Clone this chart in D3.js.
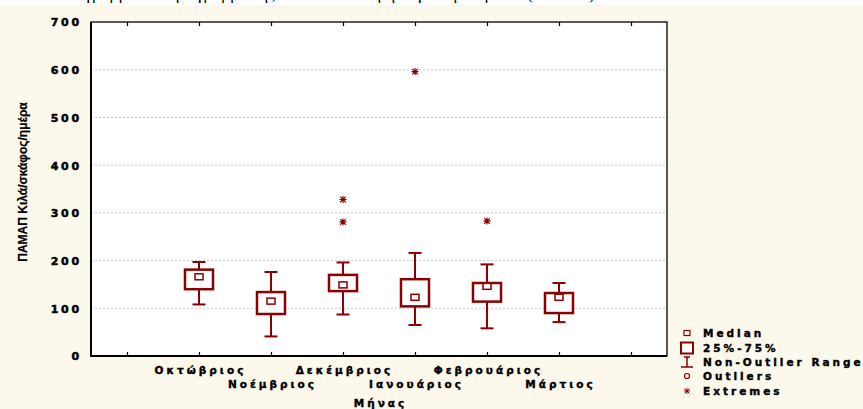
<!DOCTYPE html>
<html lang="el">
<head>
<meta charset="utf-8">
<title>box plot</title>
<script src="https://cdn.jsdelivr.net/npm/d3@7/dist/d3.min.js"></script>
<style>
  body { margin: 0; background: #fff; }
  svg { display: block; }
  .lbl { font-family: "DejaVu Sans", Arial, sans-serif; font-weight: bold; fill: #000; }
</style>
</head>
<body>
<script>
// data
var months = ['Οκτώβριος', 'Νοέμβριος', 'Δεκέμβριος', 'Ιανουάριος', 'Φεβρουάριος', 'Μάρτιος'];
var medians = [166, 115, 149, 123, 146, 123];
var q1 = [140, 88, 136, 104, 114, 90];
var q3 = [181, 134, 170, 161, 153, 132];
var whiskLow = [108, 41, 87, 65, 58, 71];
var whiskHigh = [197, 176, 196, 216, 192, 153];
var extremes = [[], [], [328, 281], [596], [283], []];
var yTicks = [0, 100, 200, 300, 400, 500, 600, 700];
var legendItems = ['Median', '25%-75%', 'Non-Outlier Range', 'Outliers', 'Extremes'];

var W = 863, H = 409;
var pL = 91, pR = 667, pT = 22, pB = 356;
var red = '#8b0000';

var svg = d3.select('body').append('svg')
    .attr('width', W).attr('height', H);

// white strip with the cut-off caption of the page above, then cream panel
svg.append('text')
    .attr('x', 60).attr('y', -1)
    .style('font-family', '"Liberation Serif", serif')
    .style('font-size', '17px')
    .attr('fill', '#000')
    .text('Διάγραμμα 4: Θηκόγραμμα της ΠΑΜΑΠ ανά μήνα για την περίοδο (2006-07)');
svg.append('rect')
    .attr('x', 0).attr('y', 5).attr('width', W).attr('height', H - 5)
    .attr('fill', '#fdf8ec');

var x = d3.scaleLinear().domain([-0.5, 7.5]).range([pL, pR]);
var y = d3.scaleLinear().domain([0, 700]).range([pB, pT]);

svg.append('rect')
    .attr('x', pL).attr('y', pT)
    .attr('width', pR - pL).attr('height', pB - pT)
    .attr('fill', '#fff');

// grid
svg.append('g').selectAll('line')
    .data(yTicks.filter(function (d) { return d > 0 && d < 700; }))
    .enter().append('line')
    .attr('x1', pL).attr('x2', pR)
    .attr('y1', function (d) { return y(d); })
    .attr('y2', function (d) { return y(d); })
    .attr('stroke', '#c8c8c8')
    .attr('stroke-dasharray', '2,2');

// y axis
var yAxis = d3.axisLeft(y).tickValues(yTicks).tickSize(0).tickPadding(9);
var gy = svg.append('g')
    .attr('transform', 'translate(' + pL + ',0)')
    .call(yAxis);
gy.select('.domain').remove();
gy.selectAll('text')
    .attr('class', 'lbl')
    .attr('fill', '#000')
    .style('font-size', '11px')
    .style('letter-spacing', '2.8px')
    .style('stroke', '#000').style('stroke-width', 0.5)
    .attr('dy', '0.35em');

// x axes, ticks pointing inward
var xPos = d3.range(0, 8);
var gxb = svg.append('g')
    .attr('transform', 'translate(0,' + pB + ')')
    .call(d3.axisBottom(x).tickValues(xPos).tickSize(-4).tickFormat(''));
var gxt = svg.append('g')
    .attr('transform', 'translate(0,' + pT + ')')
    .call(d3.axisTop(x).tickValues(xPos).tickSize(-4).tickFormat(''));
[gxb, gxt].forEach(function (g) {
    g.select('.domain').remove();
    g.selectAll('line').attr('stroke', '#000').attr('stroke-width', 1.2);
});

// frame
svg.append('rect')
    .attr('x', pL).attr('y', pT)
    .attr('width', pR - pL).attr('height', pB - pT)
    .attr('fill', 'none').attr('stroke', '#000').attr('stroke-width', 1.3);
svg.append('line')
    .attr('x1', pL).attr('x2', pL).attr('y1', pT).attr('y2', pB + 1)
    .attr('stroke', '#000').attr('stroke-width', 2);
svg.append('line')
    .attr('x1', pL).attr('x2', pR).attr('y1', pB).attr('y2', pB)
    .attr('stroke', '#000').attr('stroke-width', 2);

// category labels, staggered over two rows
svg.append('g').selectAll('text')
    .data(months)
    .enter().append('text')
    .attr('class', 'lbl')
    .attr('x', function (d, i) { return x(i + 1) + 1.5; })
    .attr('y', function (d, i) { return i % 2 === 0 ? 374 : 388; })
    .attr('text-anchor', 'middle')
    .style('font-size', '10.5px')
    .style('letter-spacing', '3px')
    .style('stroke', '#000').style('stroke-width', 0.4)
    .text(function (d) { return d; });

svg.append('text')
    .attr('class', 'lbl')
    .attr('x', (pL + pR) / 2 + 1.5).attr('y', 407)
    .attr('text-anchor', 'middle')
    .style('font-size', '10.5px')
    .style('letter-spacing', '3px')
    .style('stroke', '#000').style('stroke-width', 0.4)
    .text('Μήνας');

svg.append('text')
    .attr('transform', 'translate(27,' + 182 + ') rotate(-90)')
    .attr('text-anchor', 'middle')
    .style('font-family', '"Liberation Sans Narrow", "Arial Narrow", sans-serif')
    .style('font-weight', 'bold')
    .style('font-size', '12px')
    .style('stroke', '#000').style('stroke-width', 0.2)
    .attr('fill', '#000')
    .text('ΠΑΜΑΠ Κιλά/σκάφος/ημέρα');

// boxes
var boxW = 28, capW = 13;
var boxes = svg.append('g').selectAll('g')
    .data(months)
    .enter().append('g');

boxes.append('line')
    .attr('x1', function (d, i) { return x(i + 1); })
    .attr('x2', function (d, i) { return x(i + 1); })
    .attr('y1', function (d, i) { return y(whiskHigh[i]); })
    .attr('y2', function (d, i) { return y(whiskLow[i]); })
    .attr('stroke', red).attr('stroke-width', 2);
[whiskHigh, whiskLow].forEach(function (arr) {
    boxes.append('line')
        .attr('x1', function (d, i) { return x(i + 1) - capW / 2; })
        .attr('x2', function (d, i) { return x(i + 1) + capW / 2; })
        .attr('y1', function (d, i) { return y(arr[i]); })
        .attr('y2', function (d, i) { return y(arr[i]); })
        .attr('stroke', red).attr('stroke-width', 2);
});
boxes.append('rect')
    .attr('x', function (d, i) { return x(i + 1) - boxW / 2; })
    .attr('y', function (d, i) { return y(q3[i]); })
    .attr('width', boxW)
    .attr('height', function (d, i) { return y(q1[i]) - y(q3[i]); })
    .attr('fill', '#fff').attr('stroke', red).attr('stroke-width', 2.5);
boxes.append('rect')
    .attr('x', function (d, i) { return x(i + 1) - 4; })
    .attr('y', function (d, i) { return y(medians[i]) - 3; })
    .attr('width', 8).attr('height', 6)
    .attr('fill', '#fff').attr('stroke', red).attr('stroke-width', 1.5);

// extremes
function star(cx, cy, s) {
    return 'M' + (cx - s) + ',' + cy + 'H' + (cx + s) +
        'M' + cx + ',' + (cy - s) + 'V' + (cy + s) +
        'M' + (cx - s * 0.8) + ',' + (cy - s * 0.8) + 'L' + (cx + s * 0.8) + ',' + (cy + s * 0.8) +
        'M' + (cx - s * 0.8) + ',' + (cy + s * 0.8) + 'L' + (cx + s * 0.8) + ',' + (cy - s * 0.8);
}
var extPts = [];
extremes.forEach(function (arr, i) {
    arr.forEach(function (v) { extPts.push({ i: i, v: v }); });
});
svg.append('g').selectAll('path')
    .data(extPts)
    .enter().append('path')
    .attr('d', function (d) { return star(x(d.i + 1), y(d.v), 3.5); })
    .attr('stroke', red).attr('stroke-width', 1.2).attr('fill', 'none');

// legend
var lx = 687, ly = [333, 348, 362, 376, 391];
var leg = svg.append('g');
leg.append('rect').attr('x', lx - 3).attr('y', ly[0] - 2.5).attr('width', 6).attr('height', 5)
    .attr('fill', '#fff').attr('stroke', red).attr('stroke-width', 1.2);
leg.append('rect').attr('x', lx - 6).attr('y', ly[1] - 5.5).attr('width', 12).attr('height', 11)
    .attr('fill', '#fff').attr('stroke', red).attr('stroke-width', 2);
leg.append('path')
    .attr('d', 'M' + (lx - 6) + ',' + (ly[2] + 5) + 'H' + (lx + 6) +
        'M' + lx + ',' + (ly[2] + 5) + 'V' + (ly[2] - 5) +
        'M' + (lx - 3) + ',' + (ly[2] - 5) + 'H' + (lx + 3))
    .attr('stroke', red).attr('stroke-width', 1.5).attr('fill', 'none');
leg.append('circle').attr('cx', lx).attr('cy', ly[3]).attr('r', 2.5)
    .attr('fill', 'none').attr('stroke', red).attr('stroke-width', 1.2);
leg.append('path').attr('d', star(lx, ly[4], 3))
    .attr('stroke', red).attr('stroke-width', 1).attr('fill', 'none');
leg.selectAll('text.item')
    .data(legendItems)
    .enter().append('text')
    .attr('class', 'lbl')
    .attr('x', 703)
    .attr('y', function (d, i) { return ly[i]; })
    .attr('dy', '0.35em')
    .style('font-size', '10.5px')
    .style('letter-spacing', '3px')
    .style('stroke', '#000').style('stroke-width', 0.4)
    .text(function (d) { return d; });
</script>
</body>
</html>
